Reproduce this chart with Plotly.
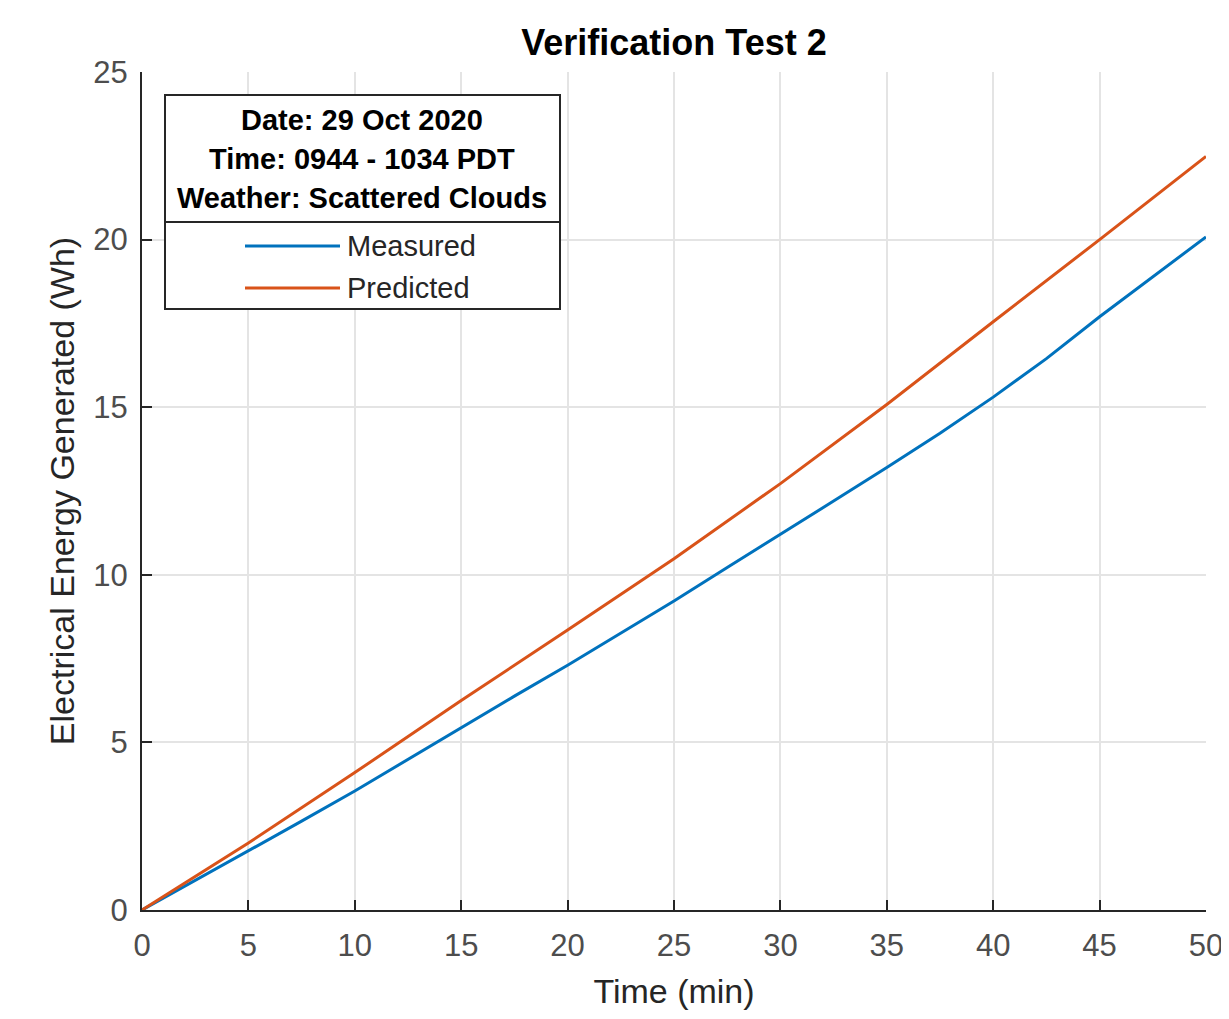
import plotly.graph_objects as go

# ---- data ----
time_measured = [0, 2.5, 5, 7.5, 10, 12.5, 15, 17.5, 20, 22.5, 25, 27.5, 30,
                 32.5, 35, 37.5, 40, 42.5, 45, 47.5, 50]
energy_measured = [0, 0.88, 1.78, 2.65, 3.55, 4.5, 5.45, 6.38, 7.3, 8.25, 9.22,
                   10.22, 11.2, 12.2, 13.2, 14.22, 15.3, 16.45, 17.7, 18.88, 20.08]

time_predicted = [0, 5, 10, 15, 20, 25, 30, 35, 40, 45, 50]
energy_predicted = [0, 2.0, 4.1, 6.25, 8.35, 10.48, 12.72, 15.08, 17.55, 20.0, 22.48]

x_ticks = [0, 5, 10, 15, 20, 25, 30, 35, 40, 45, 50]
y_ticks = [0, 5, 10, 15, 20, 25]

series_names = ["Measured", "Predicted"]
legend_header = ["Date: 29 Oct 2020", "Time: 0944 - 1034 PDT", "Weather: Scattered Clouds"]
title_text = "Verification Test 2"
x_title = "Time (min)"
y_title = "Electrical Energy Generated (Wh)"

BLUE = "#0072BD"
ORANGE = "#D95319"
AXC = "#262626"
TICKC = "#4d4d4d"
FONT = "Liberation Sans, Arial, sans-serif"

fig = go.Figure()
fig.add_trace(go.Scatter(x=time_measured, y=energy_measured, mode="lines",
                         name=series_names[0], line=dict(color=BLUE, width=3),
                         showlegend=False))
fig.add_trace(go.Scatter(x=time_predicted, y=energy_predicted, mode="lines",
                         name=series_names[1], line=dict(color=ORANGE, width=3),
                         showlegend=False))

OFF = 8  # page offset of the figure
W, H = 1229, 1019
# plot area in screen pixels
SL, SR, ST, SB = 142, 1206, 72, 910
L, T = SL - OFF, ST - OFF
R = W - (SR - OFF)
B = H - (SB - OFF)
pw, ph = SR - SL, SB - ST

def px(xs):
    return (xs - SL) / pw

def py(ys):
    return (SB - ys) / ph

shapes = [
    dict(type="rect", xref="paper", yref="paper", x0=px(165), x1=px(560),
         y0=py(309), y1=py(95), line=dict(color=AXC, width=2), fillcolor="white",
         layer="above"),
    dict(type="line", xref="paper", yref="paper", x0=px(165), x1=px(560),
         y0=py(222), y1=py(222), line=dict(color=AXC, width=2), layer="above"),
    dict(type="line", xref="paper", yref="paper", x0=px(245), x1=px(340),
         y0=py(246), y1=py(246), line=dict(color=BLUE, width=3), layer="above"),
    dict(type="line", xref="paper", yref="paper", x0=px(245), x1=px(340),
         y0=py(288), y1=py(288), line=dict(color=ORANGE, width=3), layer="above"),
]

annotations = []
for txt, yy in zip(legend_header, [120, 159, 198]):
    annotations.append(dict(xref="paper", yref="paper", x=px(362), y=py(yy),
                            text="<b>" + txt + "</b>", showarrow=False,
                            xanchor="center", yanchor="middle",
                            font=dict(family=FONT, size=29, color="black")))
for name, yy in zip(series_names, [246, 288]):
    annotations.append(dict(xref="paper", yref="paper", x=px(345), y=py(yy),
                            text=name, showarrow=False, xanchor="left",
                            yanchor="middle",
                            font=dict(family=FONT, size=29, color=AXC)))

fig.update_layout(
    width=W, height=H,
    margin=dict(l=L, r=R, t=T, b=B),
    paper_bgcolor="white", plot_bgcolor="white",
    title=dict(text="<b>" + title_text + "</b>", x=(L + pw / 2) / W, xanchor="center",
               y=1 - (42 - OFF) / H, yanchor="middle", yref="container",
               font=dict(family=FONT, size=36, color="black")),
    shapes=shapes,
    annotations=annotations,
    font=dict(family=FONT),
)

fig.update_xaxes(
    range=[0, 50], tickvals=x_ticks, ticktext=[str(v) for v in x_ticks],
    showgrid=True, gridcolor="#e4e4e4", gridwidth=1.5,
    showline=True, linecolor=AXC, linewidth=2, mirror=False,
    ticks="inside", ticklen=10, tickwidth=2, tickcolor=AXC,
    tickfont=dict(family=FONT, size=31, color=TICKC),
    ticklabelstandoff=7, zeroline=False,
    title=dict(text=x_title, font=dict(family=FONT, size=34, color=AXC), standoff=17),
)
fig.update_yaxes(
    range=[0, 25], tickvals=y_ticks, ticktext=[str(v) for v in y_ticks],
    showgrid=True, gridcolor="#e4e4e4", gridwidth=1.5,
    showline=True, linecolor=AXC, linewidth=2, mirror=False,
    ticks="inside", ticklen=10, tickwidth=2, tickcolor=AXC,
    tickfont=dict(family=FONT, size=31, color=TICKC),
    ticklabelstandoff=6, zeroline=False,
    title=dict(text=y_title, font=dict(family=FONT, size=34, color=AXC), standoff=8),
)

fig.write_html("out.html")
